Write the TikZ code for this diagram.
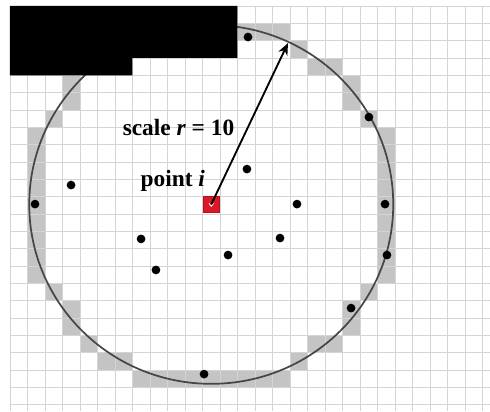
\documentclass[tikz,border=0pt]{standalone}
\usepackage{fontspec}
\setmainfont{Liberation Serif}
\usetikzlibrary{arrows.meta}
\definecolor{gridgray}{RGB}{212,212,212}
\definecolor{ringgray}{RGB}{196,196,196}
\definecolor{pointred}{RGB}{218,24,40}
\definecolor{rimgray}{RGB}{70,70,70}

\begin{document}
\begin{tikzpicture}[
  x=0.5cm, y=-0.4952cm,
  gridline/.style={draw=gridgray, line width=0.7pt},
  ringcell/.style={fill=ringgray},
  sampledot/.style={circle, fill=black, inner sep=0pt, minimum size=2.5mm},
  centre/.style={rectangle, fill=pointred, draw=pointred!80!black, line width=0.4pt, minimum width=4.5mm, minimum height=4.7mm, inner sep=0pt},
  tag/.style={font=\fontsize{19}{21}\selectfont\bfseries, inner sep=0pt, anchor=base west},
  radius arrow/.style={-{Stealth[length=3.4mm, width=2.8mm]}, line width=1.5pt}
]
\useasboundingbox (-0.571,-0.346) rectangle (27.429,23.37);

% cells cut by the circle
\foreach \c/\r in {7/1,8/1,9/1,10/1,11/1,12/1,13/1,14/1,15/1,
                   7/21,8/21,9/21,10/21,11/21,12/21,13/21,14/21,15/21,
                   1/7,1/8,1/9,1/10,1/11,1/12,1/13,1/14,1/15,
                   21/7,21/8,21/9,21/10,21/11,21/12,21/13,21/14,21/15,
                   6/2,16/2,4/3,5/3,17/3,18/3,3/4,3/5,19/4,19/5,2/6,20/6,
                   2/16,20/16,3/17,3/18,19/17,19/18,4/19,17/19,18/19,
                   5/20,6/20,16/20}
  \fill[ringcell] (\c,\r) rectangle ++(1,1);

% grid
\foreach \i in {0,...,27}
  \draw[gridline] (\i,0) -- (\i,23.37);
\foreach \j in {0,...,23}
  \draw[gridline] (0,\j) -- (27.43,\j);

% circle of radius r
\draw[rimgray, line width=1.4pt] (11.5,11.45) ellipse [x radius=10.4, y radius=10.35];

% masked region
\fill[black] (0,0) -- (13,0) -- (13,3) -- (7,3) -- (7,4) -- (0,4) -- cycle;

% neighbouring points
\node[sampledot] (p1) at (13.6,1.79) {};
\node[sampledot] (p2) at (20.51,6.41) {};
\node[sampledot] (p3) at (3.49,10.33) {};
\node[sampledot] (p4) at (1.43,11.43) {};
\node[sampledot] (p5) at (13.54,9.41) {};
\node[sampledot] (p6) at (16.4,11.43) {};
\node[sampledot] (p7) at (21.43,11.43) {};
\node[sampledot] (p8) at (7.49,13.44) {};
\node[sampledot] (p9) at (8.34,15.23) {};
\node[sampledot] (p10) at (12.46,14.37) {};
\node[sampledot] (p11) at (15.43,13.39) {};
\node[sampledot] (p12) at (21.54,14.37) {};
\node[sampledot] (p13) at (19.49,17.43) {};
\node[sampledot] (p14) at (11.09,21.24) {};

% point i and its radius
\node[centre] (pi) at (11.5,11.45) {};
\draw[white, line width=0.7pt] (pi.center) ++(-0.13,-0.06) -- ++(0.13,0.16) -- ++(0.13,-0.16);
\coordinate (rim) at (15.886,2.136);
\draw[radius arrow] (pi.center) -- (rim);

\node[tag] (scale) at (6.43,7.50) {scale \textit{r} = 10};
\node[tag] (point) at (7.45,10.39) {point \textit{i}};
\end{tikzpicture}
\end{document}
